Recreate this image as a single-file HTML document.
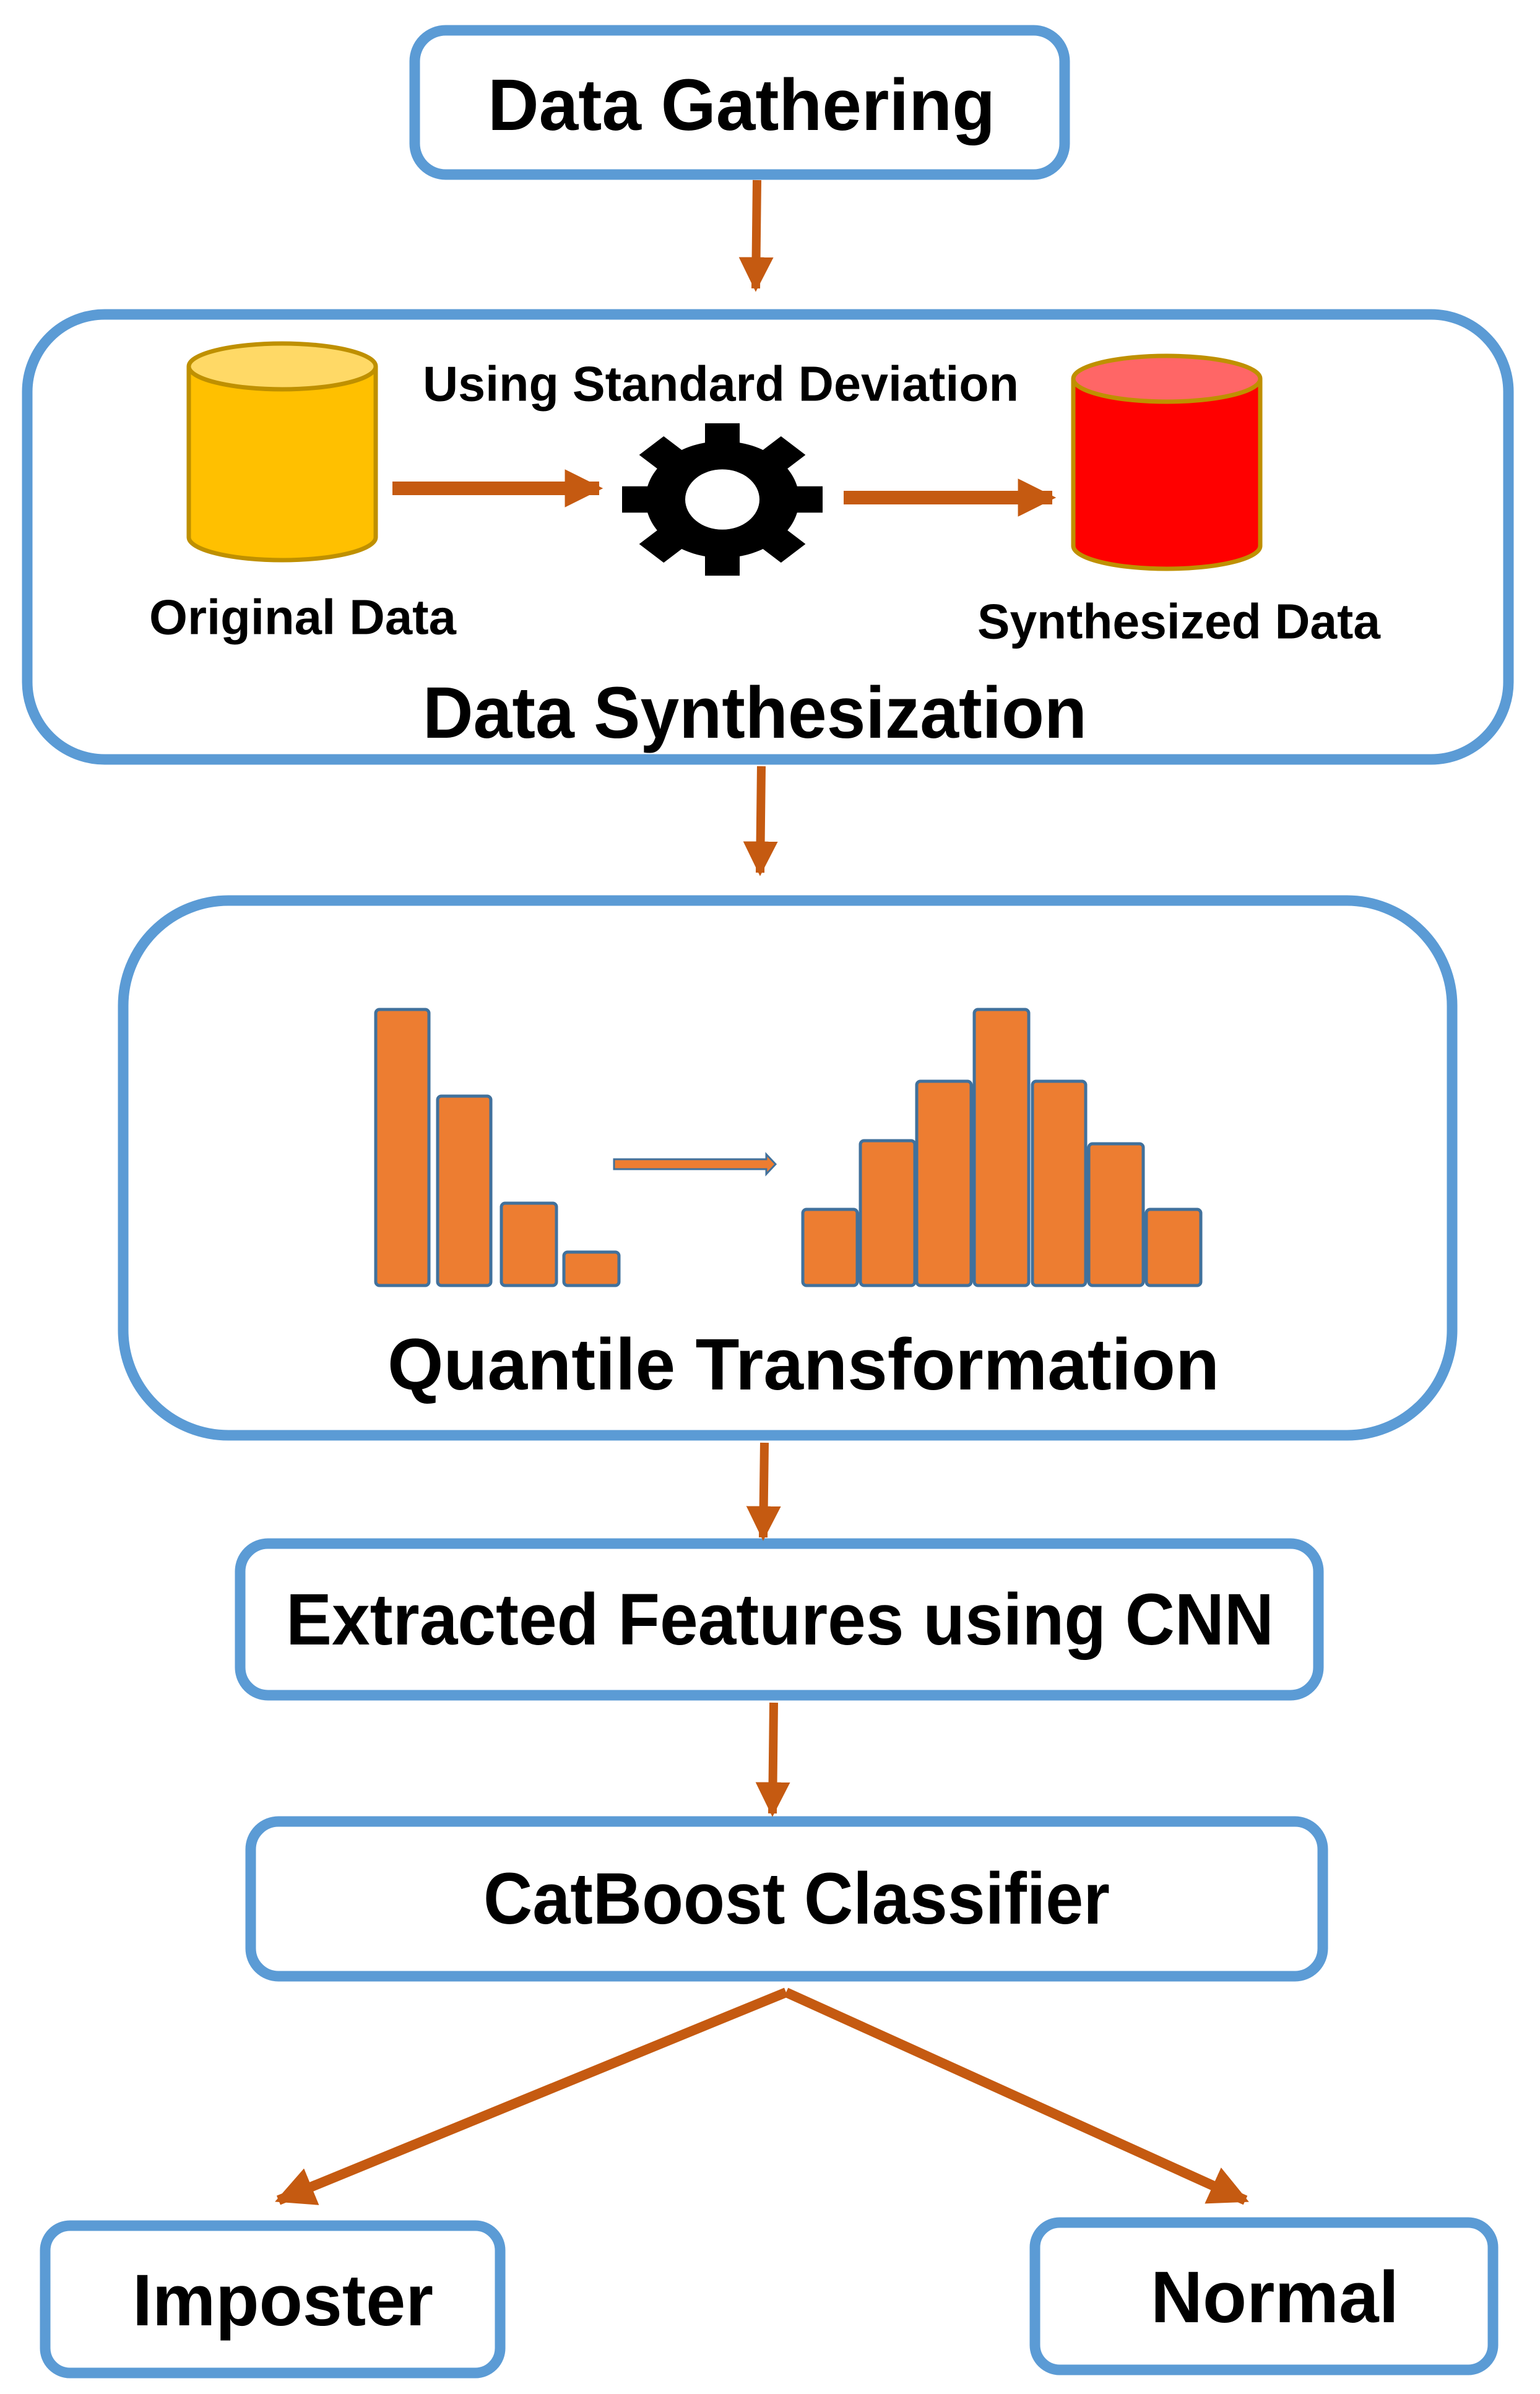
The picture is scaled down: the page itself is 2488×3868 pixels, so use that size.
<!DOCTYPE html>
<html><head><meta charset="utf-8"><style>html,body{margin:0;padding:0;background:#fff}svg{display:block}</style></head><body>
<svg width="2488" height="3868" viewBox="0 0 2488 3868" xmlns="http://www.w3.org/2000/svg" font-family="'Liberation Sans', sans-serif" font-weight="bold">
<defs>
<marker id="ah" viewBox="0 0 10 10" refX="9" refY="5" markerWidth="4" markerHeight="4" orient="auto" markerUnits="strokeWidth"><path d="M0,0 L10,5 L0,10 z" fill="#C55A11"/></marker>
<marker id="ah2" viewBox="0 0 10 10" refX="9" refY="5" markerWidth="2.8" markerHeight="3" orient="auto" markerUnits="strokeWidth"><path d="M0,0 L10,5 L0,10 z" fill="#C55A11"/></marker>
</defs>
<g fill="none" stroke="#5B9BD5" stroke-width="17">
<rect x="670" y="49" width="1050" height="233" rx="50"/>
<rect x="44" y="508" width="2393" height="719" rx="125"/>
<rect x="199" y="1455" width="2147" height="864" rx="170"/>
<rect x="388" y="2494" width="1742" height="245" rx="45"/>
<rect x="405" y="2943" width="1732" height="250" rx="45"/>
<rect x="73" y="3596" width="735" height="238" rx="40"/>
<rect x="1672" y="3591" width="740" height="238" rx="40"/>
</g>
<g stroke="#C55A11" stroke-width="14" marker-end="url(#ah)">
<line x1="1223" y1="291" x2="1221" y2="466"/>
<line x1="1230" y1="1238" x2="1228" y2="1410"/>
<line x1="1235" y1="2331" x2="1233" y2="2484"/>
<line x1="1250" y1="2751" x2="1248" y2="2930"/>
</g>
<g stroke="#C55A11" stroke-width="16" marker-end="url(#ah)">
<line x1="1270" y1="3219" x2="450" y2="3555"/>
<line x1="1270" y1="3219" x2="2012" y2="3555"/>
</g>
<g stroke="#C55A11" stroke-width="22" marker-end="url(#ah2)">
<line x1="634" y1="789" x2="968" y2="789"/>
<line x1="1363" y1="804" x2="1700" y2="804"/>
</g>
<g stroke="#BF9000" stroke-width="7">
<path d="M305,592 L305,868 A151,37 0 0 0 607,868 L607,592" fill="#FFC000"/>
<ellipse cx="456" cy="592" rx="151" ry="37" fill="#FFD966"/>
<path d="M1734,612 L1734,882 A151,37 0 0 0 2036,882 L2036,612" fill="#FF0000"/>
<ellipse cx="1885" cy="612" rx="151" ry="37" fill="#FF6666"/>
</g>
<g transform="translate(1167,807) scale(1,0.76)" fill="#000">
<circle r="124"/>
<g id="t"><rect x="-28" y="-162" width="56" height="60"/></g>
<use href="#t" transform="rotate(45)"/><use href="#t" transform="rotate(90)"/><use href="#t" transform="rotate(135)"/>
<use href="#t" transform="rotate(180)"/><use href="#t" transform="rotate(225)"/><use href="#t" transform="rotate(270)"/><use href="#t" transform="rotate(315)"/>
<ellipse rx="60" ry="64" fill="#fff"/>
</g>
<g fill="#ED7D31" stroke="#41719C" stroke-width="5">
<rect x="607" y="1631" width="86" height="446" rx="6"/>
<rect x="707" y="1771" width="86" height="306" rx="6"/>
<rect x="810" y="1944" width="89" height="133" rx="6"/>
<rect x="911" y="2023" width="89" height="54" rx="6"/>
<rect x="1297" y="1954" width="88" height="123" rx="6"/>
<rect x="1390" y="1843" width="88" height="234" rx="6"/>
<rect x="1481" y="1747" width="88" height="330" rx="6"/>
<rect x="1574" y="1631" width="88" height="446" rx="6"/>
<rect x="1668" y="1747" width="86" height="330" rx="6"/>
<rect x="1759" y="1848" width="88" height="229" rx="6"/>
<rect x="1852" y="1954" width="88" height="123" rx="6"/>
<path d="M992,1873 L1238,1873 L1238,1865 L1253,1881 L1238,1897 L1238,1889 L992,1889 z" stroke-width="3"/>
</g>
<g fill="#000" dominant-baseline="central">
<text x="788" y="170" font-size="118" textLength="820" lengthAdjust="spacingAndGlyphs">Data Gathering</text>
<text x="683" y="620" font-size="80" textLength="963" lengthAdjust="spacingAndGlyphs">Using Standard Deviation</text>
<text x="241" y="997" font-size="80" textLength="496" lengthAdjust="spacingAndGlyphs">Original Data</text>
<text x="1579" y="1004" font-size="80" textLength="651" lengthAdjust="spacingAndGlyphs">Synthesized Data</text>
<text x="683" y="1152" font-size="118" textLength="1073" lengthAdjust="spacingAndGlyphs">Data Synthesization</text>
<text x="626" y="2205" font-size="118" textLength="1344" lengthAdjust="spacingAndGlyphs">Quantile Transformation</text>
<text x="462" y="2617" font-size="118" textLength="1596" lengthAdjust="spacingAndGlyphs">Extracted Features using CNN</text>
<text x="781" y="3068" font-size="118" textLength="1012" lengthAdjust="spacingAndGlyphs">CatBoost Classifier</text>
<text x="214" y="3717" font-size="118" textLength="486" lengthAdjust="spacingAndGlyphs">Imposter</text>
<text x="1859" y="3712" font-size="118" textLength="401" lengthAdjust="spacingAndGlyphs">Normal</text>
</g>
</svg>
</body></html>
